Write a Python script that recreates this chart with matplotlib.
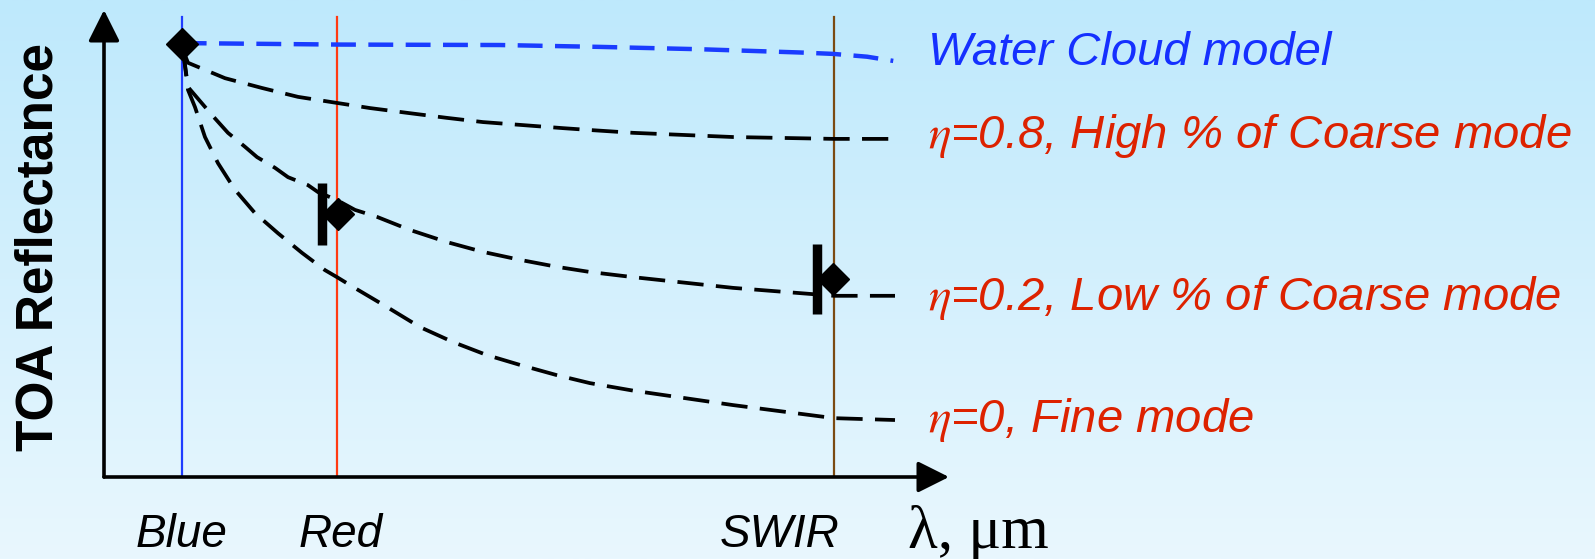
import numpy as np
import matplotlib
matplotlib.use("Agg")
import matplotlib.pyplot as plt
from matplotlib import transforms
from matplotlib.colors import LinearSegmentedColormap

plt.rcParams['font.family'] = ['Liberation Sans', 'DejaVu Sans']
plt.rcParams['mathtext.fontset'] = 'stix'

# spectral bands (schematic wavelength axis, arbitrary units)
band_names = ['Blue', 'Red', 'SWIR']
band_pos = [0.92, 2.76, 8.64]
band_label_x = [0.92, 2.80, 7.99]
band_colors = ['#1f3cff', '#ff3a12', '#7b4a12']

# model curves of TOA reflectance vs wavelength
cloud_x = [0.92, 1.02, 2.76, 4.69, 5.87, 7.05, 8.24, 8.63, 9.03, 9.34]
cloud_y = [0.927, 0.929, 0.926, 0.925, 0.921, 0.916, 0.909, 0.906, 0.900, 0.891]

eta08_x = [0.935, 0.994, 1.432, 1.870, 2.296, 2.757, 3.148, 3.621, 4.059, 4.485,
           4.923, 5.432, 5.751, 6.260, 7.444, 8.639, 9.361]
eta08_y = [0.914, 0.887, 0.854, 0.833, 0.814, 0.801, 0.790, 0.779, 0.769, 0.760,
           0.754, 0.747, 0.743, 0.737, 0.728, 0.724, 0.724]

eta02_x = [0.935, 0.994, 1.278, 1.467, 1.669, 1.811, 2.024, 2.178, 2.414, 2.533,
           2.757, 2.970, 3.231, 3.621, 4.059, 4.485, 4.923, 5.361, 5.751, 6.260,
           7.444, 8.639, 9.361]
eta02_y = [0.914, 0.835, 0.775, 0.737, 0.707, 0.685, 0.662, 0.642, 0.625, 0.610,
           0.593, 0.572, 0.557, 0.529, 0.503, 0.482, 0.465, 0.450, 0.439, 0.428,
           0.405, 0.388, 0.388]

eta0_x = [0.935, 0.994, 1.077, 1.195, 1.349, 1.550, 1.787, 2.059, 2.343, 2.615,
          2.757, 2.947, 3.349, 3.740, 4.130, 4.533, 4.923, 5.361, 5.751, 6.260,
          7.444, 8.639, 9.361]
eta0_y = [0.914, 0.829, 0.792, 0.728, 0.672, 0.615, 0.565, 0.522, 0.480, 0.443,
          0.428, 0.407, 0.364, 0.321, 0.289, 0.261, 0.240, 0.218, 0.201, 0.185,
          0.154, 0.126, 0.122]

# measured reflectances (blue reference + red/SWIR with uncertainty)
ref_x, ref_y = [0.92], [0.927]
obs_x = np.array([2.77, 8.63])
obs_y = np.array([0.563, 0.424])
obs_err = np.array([0.066, 0.074])

curve_labels = ['Water Cloud model',
                r'$\eta$=0.8, High % of Coarse mode',
                r'$\eta$=0.2, Low % of Coarse mode',
                r'$\eta$=0, Fine mode']
label_y = [0.882, 0.705, 0.358, 0.096]
label_colors = ['#1530ff', '#dd2200', '#dd2200', '#dd2200']

fig = plt.figure(figsize=(15.95, 5.59), dpi=100)

# light blue vertical gradient behind everything
bg = fig.add_axes([0, 0, 1, 1], zorder=-1)
grad = np.linspace(0, 1, 256).reshape(-1, 1)
cmap = LinearSegmentedColormap.from_list('bg', ['#bee9fc', '#e9f7fe'])
bg.imshow(grad, aspect='auto', cmap=cmap, extent=[0, 1, 0, 1])
bg.axis('off')

ax = fig.add_axes([104 / 1595, 82 / 559, 845 / 1595, 467 / 559])
ax.set_xlim(0, 10)
ax.set_ylim(0, 1)
ax.patch.set_alpha(0)
for s in ax.spines.values():
    s.set_visible(False)
ax.set_xticks([])
ax.set_yticks([])

# axes with arrow heads
arrow = dict(arrowstyle='-|>,head_length=0.4,head_width=0.2', mutation_scale=48,
             lw=2.6, color='k', shrinkA=0, shrinkB=0)
ax.annotate('', xy=(10, 0), xytext=(0, 0), arrowprops=arrow, annotation_clip=False)
ax.annotate('', xy=(0, 1.0), xytext=(0, 0), arrowprops=arrow, annotation_clip=False)

# band lines
for x, c in zip(band_pos, band_colors):
    ax.plot([x, x], [0, 0.985], color=c, lw=1.6, zorder=2)

ax.plot(cloud_x, cloud_y, color='#1a3cff', lw=3.2, dashes=(5.6, 2.8), zorder=3)
for xs, ys in [(eta08_x, eta08_y), (eta02_x, eta02_y), (eta0_x, eta0_y)]:
    ax.plot(xs, ys, color='k', lw=2.7, dashes=(7.0, 3.3), zorder=3)

ax.plot(ref_x, ref_y, marker=(4, 0, 0), ms=23, color='k', ls='none', zorder=4)
ax.plot(obs_x, obs_y, marker=(4, 0, 0), ms=23, color='k', ls='none', zorder=4)
shift = transforms.offset_copy(ax.transData, fig=fig, x=-11.5, y=0, units='points')
ax.vlines(obs_x, obs_y - obs_err, obs_y + obs_err, colors='k', lw=6.8,
          transform=shift, zorder=4)

for txt, y, c in zip(curve_labels, label_y, label_colors):
    ax.text(9.75, y, txt, color=c, fontsize=34, style='italic',
            ha='left', va='baseline', clip_on=False)

for name, x in zip(band_names, band_label_x):
    ax.text(x, -0.150, name, fontsize=33, style='italic', ha='center',
            va='baseline', clip_on=False)
ax.text(9.51, -0.152, 'λ, μm', fontsize=44, family='Liberation Serif',
        ha='left', va='baseline', clip_on=False)

fig.text(39 / 1595, 1 - 247 / 559, 'TOA Reflectance', rotation=90, ha='center',
         va='center', fontsize=37, fontweight='bold')

fig.savefig('out.png', dpi=100)
